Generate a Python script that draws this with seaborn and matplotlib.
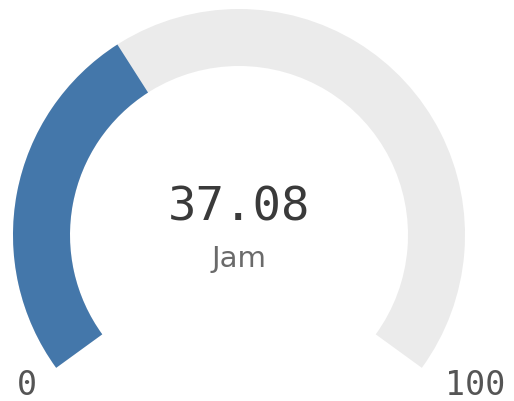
import numpy as np
import seaborn as sns
import matplotlib.pyplot as plt
from matplotlib.patches import Wedge

# Gauge data
value = 37.08
label = "Jam"
vmin, vmax = 0, 100
tick_labels = ["0", "100"]

sns.set_theme(style="white")

fig = plt.figure(figsize=(5.14, 4.02), dpi=100)
ax = fig.add_axes([0, 0, 1, 1])
ax.set_xlim(0, 514)
ax.set_ylim(0, 402)
ax.set_aspect("equal")
ax.axis("off")

# geometry (pixels)
cx, cy = 239, 166
r_out, r_in = 226, 169
start_deg, sweep = 216, 252


def to_angle(v):
    return start_deg - (v - vmin) / (vmax - vmin) * sweep


end_deg = to_angle(vmax)
val_deg = to_angle(value)

# background track
ax.add_patch(Wedge((cx, cy), r_out, end_deg, start_deg, width=r_out - r_in,
                   facecolor="#ebebeb", edgecolor="none"))
# value arc
ax.add_patch(Wedge((cx, cy), r_out, val_deg, start_deg, width=r_out - r_in,
                   facecolor="#4477aa", edgecolor="none"))

# center text
ax.text(cx, 194, f"{value:.2f}", ha="center", va="center",
        fontsize=34, family="DejaVu Sans Mono", color="#3a3a3a")
ax.text(cx, 143, label, ha="center", va="center",
        fontsize=21, color="#6a6a6a")

# min / max labels
ax.text(17, 16, tick_labels[0], ha="left", va="center",
        fontsize=24, family="DejaVu Sans Mono", color="#555555")
ax.text(445, 16, tick_labels[1], ha="left", va="center",
        fontsize=24, family="DejaVu Sans Mono", color="#555555")

fig.savefig("out.png", dpi=100)
